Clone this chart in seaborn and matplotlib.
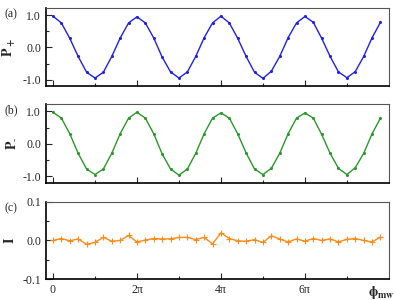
import pandas as pd
import matplotlib.pyplot as plt
import seaborn as sns
import numpy as np

# phase steps of 0.2*pi, 40 points (0 .. 7.8 pi)
step = np.arange(40)
phi = step * 0.2 * np.pi

p_plus = [0.97, 0.76, 0.28, -0.28, -0.77, -0.95, -0.77, -0.28, 0.29, 0.76,
          0.95, 0.76, 0.29, -0.30, -0.76, -0.95, -0.76, -0.28, 0.30, 0.76,
          0.97, 0.76, 0.28, -0.28, -0.77, -0.96, -0.74, -0.28, 0.30, 0.76,
          0.96, 0.78, 0.28, -0.28, -0.76, -0.94, -0.75, -0.28, 0.30, 0.78]

p_minus = [0.97, 0.79, 0.31, -0.29, -0.77, -0.94, -0.77, -0.29, 0.31, 0.79,
           0.97, 0.79, 0.31, -0.31, -0.77, -0.96, -0.77, -0.29, 0.31, 0.79,
           0.95, 0.79, 0.31, -0.28, -0.77, -0.94, -0.75, -0.29, 0.31, 0.79,
           0.95, 0.79, 0.29, -0.29, -0.75, -0.94, -0.73, -0.29, 0.31, 0.79]

imb = [0.000, 0.005, -0.001, 0.004, -0.010, -0.005, 0.008, -0.002, 0.000, 0.013,
       -0.004, 0.001, 0.005, 0.004, 0.004, 0.008, 0.008, 0.002, 0.008, -0.009,
       0.020, 0.005, -0.001, -0.002, 0.002, -0.005, 0.012, 0.004, -0.004, 0.004,
       -0.002, 0.005, 0.000, 0.004, -0.004, 0.003, 0.005, 0.000, -0.004, 0.009]

df = pd.DataFrame({'phi': phi, 'p_plus': p_plus, 'p_minus': p_minus, 'I': imb})

sns.set_style('ticks')
plt.rcParams['font.family'] = 'serif'
plt.rcParams['font.serif'] = ['Liberation Serif', 'DejaVu Serif']
plt.rcParams['mathtext.fontset'] = 'stix'
plt.rcParams['font.size'] = 8.5

fig = plt.figure(figsize=(3.95, 3.0), dpi=100)
boxes = [[0.1165, 0.713, 0.868, 0.26],
         [0.1165, 0.39, 0.868, 0.263],
         [0.1165, 0.07, 0.868, 0.257]]
axes = [fig.add_axes(b) for b in boxes]

blue, green, orange = '#2020ee', '#2a992a', '#ff8c1a'
sns.lineplot(data=df, x='phi', y='p_plus', ax=axes[0], color=blue, lw=1.0,
             marker='o', markersize=2.2, markeredgewidth=0)
sns.lineplot(data=df, x='phi', y='p_minus', ax=axes[1], color=green, lw=1.0,
             marker='o', markersize=2.2, markeredgewidth=0)
sns.lineplot(data=df, x='phi', y='I', ax=axes[2], color=orange, lw=1.0,
             marker='+', markersize=4, markeredgewidth=0.8,
             markeredgecolor=orange)

ylabels = [r'$\mathbf{P_+}$', r'$\mathbf{P_{\text{-}}}$', r'$\mathbf{I}$']
tags = ['(a)', '(b)', '(c)']
for i, ax in enumerate(axes):
    ax.set_xlim(-0.166 * np.pi, 8 * np.pi)
    ax.set_xticks([0, 2 * np.pi, 4 * np.pi, 6 * np.pi])
    ax.set_xticks([np.pi, 3 * np.pi, 5 * np.pi, 7 * np.pi], minor=True)
    if i < 2:
        ax.set_ylim(-1.2, 1.22)
        ax.set_yticks([-1.0, 0.0, 1.0])
        ax.set_yticks([-0.5, 0.5], minor=True)
        ax.set_yticklabels(['-1.0', '0.0', '1.0'])
        ax.set_xticklabels([])
    else:
        ax.set_ylim(-0.1, 0.1)
        ax.set_yticks([-0.1, 0.0, 0.1])
        ax.set_yticks([-0.05, 0.05], minor=True)
        ax.set_yticklabels(['-0.1', '0.0', '0.1'])
        ax.set_xticklabels(['0', '2π', '4π', '6π'])
    ax.tick_params(which='major', direction='in', length=4, width=0.8)
    ax.tick_params(which='minor', direction='in', length=2.5, width=0.8)
    ax.set_xlabel('')
    ax.set_ylabel(ylabels[i], fontsize=10)
    ax.yaxis.set_label_coords(-0.085, 0.5)
    for s in ['left', 'bottom']:
        ax.spines[s].set_linewidth(1.2)
        ax.spines[s].set_color('black')
    for s in ['top', 'right']:
        ax.spines[s].set_linewidth(0.8)
        ax.spines[s].set_color('#555555')
    b = boxes[i]
    fig.text(0.012, b[1] + b[3] - 0.022, tags[i], fontsize=8.5, va='center')

axes[2].text(0.977, -0.07, r'$\mathbf{\phi_{mw}}$', transform=axes[2].transAxes,
             ha='center', va='top', fontsize=10)

plt.savefig('out.png', dpi=100)
